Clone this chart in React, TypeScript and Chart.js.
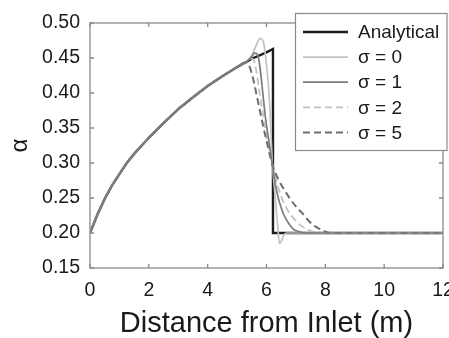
import React, { useEffect, useRef } from "react";
import { Chart, registerables } from "chart.js";

Chart.register(...registerables);

// Shared rising part (distance in m, alpha)
const baseX = [0, 0.25, 0.5, 0.75, 1, 1.25, 1.5, 2, 2.5, 3, 3.5, 4, 4.5, 5, 5.3];
const baseY = [0.2, 0.226, 0.249, 0.268, 0.284, 0.3, 0.313, 0.336, 0.357, 0.377, 0.394, 0.41, 0.424, 0.437, 0.444];

const analyticalX = [5.5, 6, 6.22, 6.22, 12];
const analyticalY = [0.449, 0.458, 0.463, 0.2, 0.2];

const sigma0X = [5.5, 5.65, 5.78, 5.9, 6.0, 6.1, 6.2, 6.3, 6.38, 6.44, 6.52, 6.6, 6.7, 12];
const sigma0Y = [0.454, 0.468, 0.478, 0.472, 0.44, 0.39, 0.3, 0.25, 0.21, 0.185, 0.19, 0.198, 0.2, 0.2];

const sigma1X = [5.5, 5.6, 5.68, 5.75, 5.85, 5.95, 6.05, 6.2, 6.3, 6.4, 6.5, 6.6, 6.75, 6.9, 7.1, 7.3, 12];
const sigma1Y = [0.452, 0.457, 0.456, 0.445, 0.41, 0.37, 0.34, 0.298, 0.27, 0.25, 0.236, 0.225, 0.214, 0.206, 0.202, 0.2, 0.2];

const sigma2X = [5.45, 5.55, 5.65, 5.75, 5.85, 5.95, 6.05, 6.2, 6.35, 6.5, 6.7, 6.9, 7.1, 7.3, 7.5, 7.7, 7.9, 12];
const sigma2Y = [0.449, 0.448, 0.432, 0.405, 0.378, 0.352, 0.328, 0.298, 0.272, 0.252, 0.234, 0.222, 0.213, 0.207, 0.203, 0.201, 0.2, 0.2];

const sigma5X = [5.4, 5.5, 5.6, 5.7, 5.8, 5.9, 6.0, 6.1, 6.2, 6.4, 6.6, 6.8, 7.0, 7.2, 7.4, 7.6, 7.8, 8.0, 8.2, 12];
const sigma5Y = [0.44, 0.428, 0.41, 0.39, 0.37, 0.35, 0.332, 0.314, 0.297, 0.277, 0.262, 0.249, 0.238, 0.229, 0.219, 0.211, 0.206, 0.202, 0.2, 0.2];

const xTicks = [0, 2, 4, 6, 8, 10, 12];
const yTicks = [0.15, 0.2, 0.25, 0.3, 0.35, 0.4, 0.45, 0.5];

const seriesLabels = ["Analytical", "σ = 0", "σ = 1", "σ = 2", "σ = 5"];

function pts(xs: number[], ys: number[]) {
  return xs.map((x, i) => ({ x, y: ys[i] }));
}

const FONT = "'Liberation Sans', Arial, sans-serif";

const framePlugin = {
  id: "frame",
  afterDatasetsDraw(chart: any) {
    const { ctx, chartArea } = chart;
    const { left, right, top, bottom } = chartArea;
    const xs = chart.scales.x;
    const ys = chart.scales.y;
    ctx.save();
    ctx.strokeStyle = "#8a8a8a";
    ctx.lineWidth = 1.3;
    ctx.strokeRect(left, top, right - left, bottom - top);
    const tl = 4;
    ctx.beginPath();
    xTicks.forEach((v) => {
      const px = xs.getPixelForValue(v);
      ctx.moveTo(px, bottom);
      ctx.lineTo(px, bottom - tl);
      ctx.moveTo(px, top);
      ctx.lineTo(px, top + tl);
    });
    yTicks.forEach((v) => {
      const py = ys.getPixelForValue(v);
      ctx.moveTo(left, py);
      ctx.lineTo(left + tl, py);
      ctx.moveTo(right, py);
      ctx.lineTo(right - tl, py);
    });
    ctx.stroke();
    ctx.restore();
  },
  afterDraw(chart: any) {
    const { ctx } = chart;
    const bx = 295.5, by = 13.5, bw = 151.5, bh = 137;
    ctx.save();
    ctx.fillStyle = "#ffffff";
    ctx.fillRect(bx, by, bw, bh);
    ctx.strokeStyle = "#8a8a8a";
    ctx.lineWidth = 1.2;
    ctx.strokeRect(bx, by, bw, bh);
    ctx.font = `19px ${FONT}`;
    ctx.textBaseline = "middle";
    ctx.textAlign = "left";
    chart.data.datasets.forEach((ds: any, i: number) => {
      const y = 32 + i * 25.1;
      ctx.beginPath();
      ctx.strokeStyle = ds.borderColor;
      ctx.lineWidth = ds.borderWidth;
      ctx.setLineDash(ds.borderDash || []);
      ctx.moveTo(303, y);
      ctx.lineTo(348, y);
      ctx.stroke();
      ctx.setLineDash([]);
      ctx.fillStyle = "#1a1a1a";
      ctx.fillText(ds.label, 358, y + 1);
    });
    ctx.restore();
  },
};

export default function App() {
  const ref = useRef<HTMLCanvasElement>(null);
  useEffect(() => {
    if (!ref.current) return;
    const chart = new Chart(ref.current, {
      type: "line",
      data: {
        datasets: [
          {
            label: seriesLabels[0],
            data: pts(baseX.concat(analyticalX), baseY.concat(analyticalY)),
            borderColor: "#1c1c1c",
            borderWidth: 2.4,
            pointRadius: 0,
            tension: 0,
            order: 10,
          },
          {
            label: seriesLabels[1],
            data: pts(baseX.concat(sigma0X), baseY.concat(sigma0Y)),
            borderColor: "#c2c2c2",
            borderWidth: 1.7,
            pointRadius: 0,
            cubicInterpolationMode: "monotone",
            order: 4,
          },
          {
            label: seriesLabels[2],
            data: pts(baseX.concat(sigma1X), baseY.concat(sigma1Y)),
            borderColor: "#7c7c7c",
            borderWidth: 1.7,
            pointRadius: 0,
            cubicInterpolationMode: "monotone",
            order: 1,
          },
          {
            label: seriesLabels[3],
            data: pts(baseX.concat(sigma2X), baseY.concat(sigma2Y)),
            borderColor: "#c2c2c2",
            borderWidth: 1.8,
            borderDash: [7, 4],
            pointRadius: 0,
            cubicInterpolationMode: "monotone",
            order: 3,
          },
          {
            label: seriesLabels[4],
            data: pts(baseX.concat(sigma5X), baseY.concat(sigma5Y)),
            borderColor: "#6e6e6e",
            borderWidth: 2,
            borderDash: [7, 4],
            pointRadius: 0,
            cubicInterpolationMode: "monotone",
            order: 2,
          },
        ],
      },
      options: {
        animation: false,
        responsive: false,
        layout: { padding: { left: 0, top: 23, right: 27, bottom: 0 } },
        plugins: { legend: { display: false }, tooltip: { enabled: false } },
        scales: {
          x: {
            type: "linear",
            min: 0,
            max: 12,
            afterBuildTicks: (axis: any) => {
              axis.ticks = xTicks.map((v) => ({ value: v }));
            },
            afterFit: (axis: any) => {
              axis.height = 70;
            },
            grid: { display: false, drawTicks: false },
            border: { display: false },
            ticks: {
              padding: 11,
              color: "#1a1a1a",
              font: { family: FONT, size: 19.5 },
              maxRotation: 0,
              autoSkip: false,
            },
            title: {
              display: true,
              text: "Distance from Inlet (m)",
              color: "#1a1a1a",
              font: { family: FONT, size: 29, lineHeight: 1.0 },
              padding: { top: 0, bottom: 0 },
            },
          },
          y: {
            type: "linear",
            min: 0.15,
            max: 0.5,
            afterBuildTicks: (axis: any) => {
              axis.ticks = yTicks.map((v) => ({ value: v }));
            },
            afterFit: (axis: any) => {
              axis.width = 90;
            },
            grid: { display: false, drawTicks: false },
            border: { display: false },
            ticks: {
              padding: 10,
              color: "#1a1a1a",
              font: { family: FONT, size: 19.5 },
              autoSkip: false,
              callback: (v: any) => Number(v).toFixed(2),
            },
            title: {
              display: true,
              text: "α",
              color: "#1a1a1a",
              font: { family: FONT, size: 24 },
              padding: { top: 6, bottom: 0 },
            },
          },
        },
      },
      plugins: [framePlugin],
    });
    return () => chart.destroy();
  }, []);
  return (
    <div
      style={{
        position: "fixed",
        left: 0,
        top: 0,
        width: 449,
        height: 338,
        overflow: "hidden",
        background: "#fff",
      }}
    >
      <canvas ref={ref} width={470} height={338} style={{ width: 470, height: 338, display: "block" }} />
    </div>
  );
}
